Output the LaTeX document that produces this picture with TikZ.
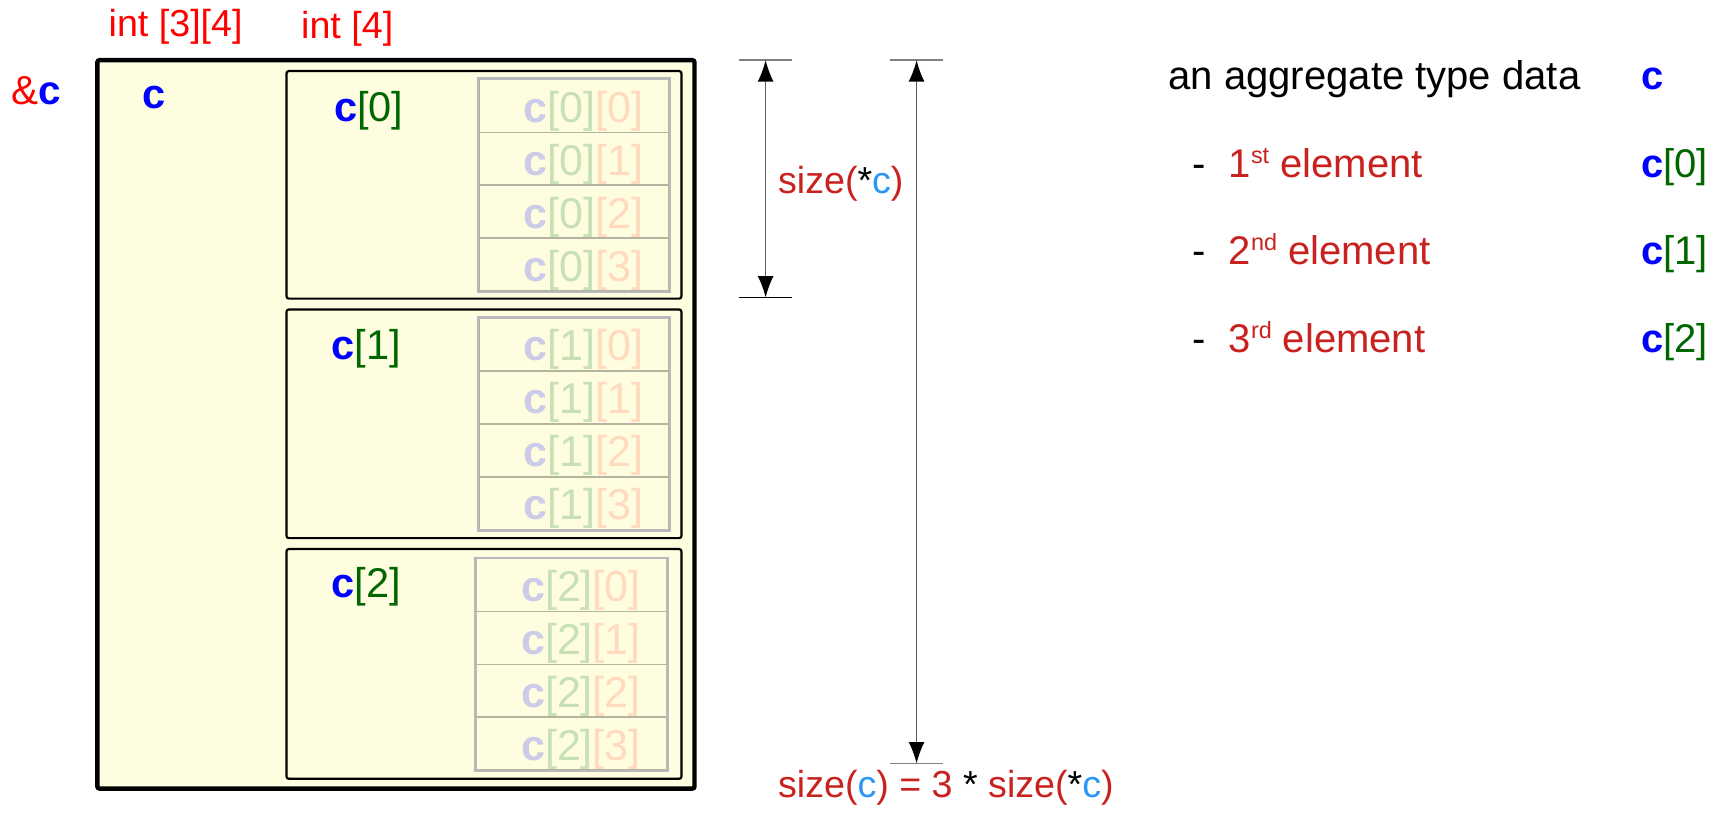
\documentclass[tikz,border=0pt]{standalone}
\usepackage{fontspec}
\setmainfont{Liberation Sans}
\usetikzlibrary{arrows.meta}

\definecolor{boxfill}{RGB}{255,253,224}
\definecolor{pred}{RGB}{255,0,0}
\definecolor{crim}{RGB}{201,33,30}
\definecolor{cblue}{RGB}{0,0,255}
\definecolor{cgreen}{RGB}{0,102,0}
\definecolor{lblue}{RGB}{42,150,245}
\definecolor{cellgrey}{RGB}{185,185,185}
\definecolor{cellsep}{RGB}{180,180,160}
\definecolor{fadec}{RGB}{204,204,232}
\definecolor{fadeg}{RGB}{200,224,182}
\definecolor{fadeo}{RGB}{255,218,190}
\definecolor{tickgrey}{RGB}{128,128,128}
\definecolor{dimline}{RGB}{95,95,95}

\newcommand\cvar{{\bfseries\color{cblue}c}}
\newcommand\idx[1]{{\color{cgreen}[#1]}}
\newcommand\ordsup[1]{\raisebox{6.3pt}{\fontsize{10.7}{11}\selectfont #1}}

\begin{document}
\begin{tikzpicture}[x=0.5pt,y=-0.5pt,
  font=\fontsize{18}{21.6}\selectfont,
  frame/.style={draw=black, line width=2pt, fill=boxfill, rounded corners=1pt, inner sep=0pt},
  subbox/.style={draw=black, line width=1pt, fill=boxfill, rounded corners=1pt, inner sep=0pt, minimum width=180.5pt},
  cell/.style={draw=cellsep, line width=0.7pt, inner sep=0pt, minimum width=87pt, minimum height=24.125pt, anchor=north west},
  group/.style={draw=cellgrey, line width=1.2pt},
  lbl/.style={anchor=base west, inner sep=0pt},
  redlbl/.style={lbl, font=\fontsize{17.2}{20}\selectfont},
  legend/.style={lbl, font=\fontsize{18.3}{22}\selectfont},
  boxlbl/.style={lbl, font=\fontsize{19}{22}\selectfont},
  celltxt/.style={lbl, font=\fontsize{19.7}{23}\selectfont},
  dim/.style={draw=dimline, line width=0.65pt, {Latex[length=9.8pt,width=7.3pt,color=black]}-{Latex[length=9.8pt,width=7.3pt,color=black]}},
  tick/.style={line width=0.8pt}
]
\useasboundingbox (0,0) rectangle (1568,749);

% outer two-dimensional array
\node[frame, minimum width=273pt, minimum height=333pt] (outer) at (362,388) {};

% the three rows
\node[subbox, minimum height=104pt]   (row0) at (442.5,169) {};
\node[subbox, minimum height=104.5pt] (row1) at (442.5,387.5) {};
\node[subbox, minimum height=105pt]   (row2) at (442.5,607) {};

% cells of each row
\foreach \i/\t/\l in {0/72/437, 1/290/437, 2/510/435} {
  \foreach \j in {0,...,3} {
    \node[cell] (c\i\j) at (\l,\t+\j*48.4) {};
    \node[celltxt] (t\i\j) at (\l+41,\t+\j*48.4+40)
      {{\bfseries\color{fadec}c}{\color{fadeg}[\i]}{\color{fadeo}[\j]}};
  }
  \draw[group] (c\i0.north west) rectangle (c\i3.south east);
}

% labels
\node[lbl, font=\fontsize{18.5}{22}\selectfont] (addr) at (10,96) {{\color{pred}\&}\cvar};
\node[redlbl, text=pred] (type2) at (99,33) {int [3][4]};
\node[redlbl, text=pred] (type1) at (275,35) {int [4]};
\node[boxlbl] (cname) at (130,99) {\cvar};
\node[boxlbl] (r0) at (305,111) {\cvar\idx{0}};
\node[boxlbl] (r1) at (303,329) {\cvar\idx{1}};
\node[boxlbl] (r2) at (303,546) {\cvar\idx{2}};

% dimension: one row
\coordinate (d1t) at (700,55);
\coordinate (d1b) at (700,272);
\draw[tick, tickgrey] ([xshift=-12pt]d1t) -- ([xshift=12pt]d1t);
\draw[tick, black] ([xshift=-12pt]d1b) -- ([xshift=12pt]d1b);
\draw[dim] (d1t) -- (d1b);
\node[redlbl] (s1) at (711,177)
  {{\color{crim}size(}*{\color{lblue}c}{\color{crim})}};

% dimension: whole array
\coordinate (d2t) at (838,55);
\coordinate (d2b) at (838,698);
\draw[tick, tickgrey] ([xshift=-12pt]d2t) -- ([xshift=12pt]d2t);
\draw[tick, tickgrey] ([xshift=-12pt]d2b) -- ([xshift=12pt]d2b);
\draw[dim] (d2t) -- (d2b);
\node[redlbl] (s2) at (711,729)
  {{\color{crim}size(}{\color{lblue}c}{\color{crim}) = 3} * {\color{crim}size(}*{\color{lblue}c}{\color{crim})}};

% legend
\node[legend] (agg) at (1068,82) {an aggregate type data};
\node[legend] (aggc) at (1500,82) {\cvar};
\foreach \k/\s/\y/\n in {1/st/162/0, 2/nd/242/1, 3/rd/322/2} {
  \node[legend] (dash\k) at (1090,\y) {-};
  \node[legend, text=crim] (el\k) at (1123,\y) {\k\ordsup{\s} element};
  \node[legend] (ce\k) at (1500,\y) {\cvar\idx{\n}};
}
\end{tikzpicture}
\end{document}
